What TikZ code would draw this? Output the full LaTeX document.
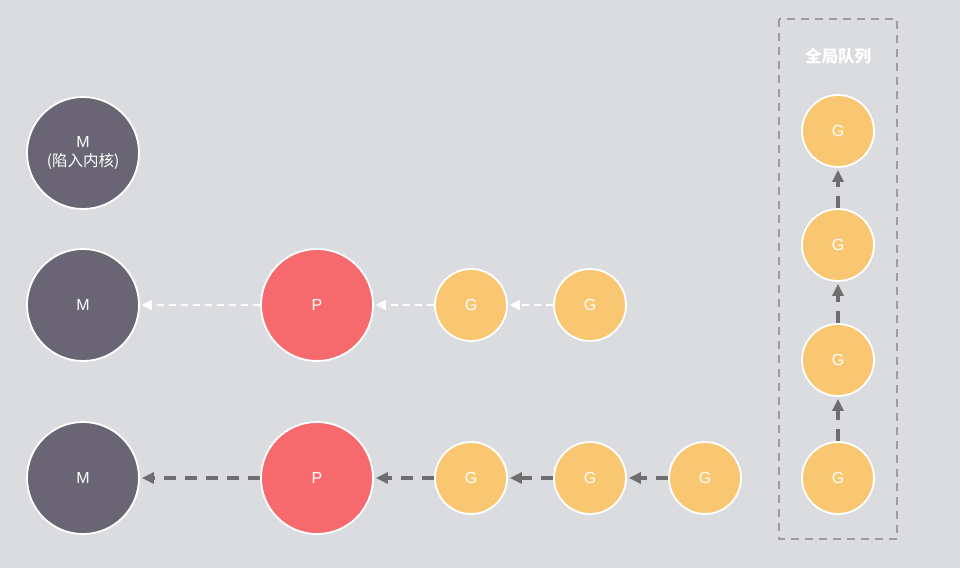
\documentclass[tikz,border=0pt]{standalone}
\usepackage{fontspec}
\setmainfont{Liberation Sans}
\newfontfamily\cjk{Noto Sans CJK SC}
\usetikzlibrary{arrows.meta}
\definecolor{bg}{HTML}{DBDCE0}
\definecolor{mcol}{HTML}{6A6574}
\definecolor{pcol}{HTML}{F6696C}
\definecolor{gcol}{HTML}{F9C772}
\definecolor{arrowgray}{HTML}{6E6E6E}
\definecolor{boxgray}{HTML}{9C9C9C}
\tikzset{
  ball/.style={circle, draw=white, line width=1.8pt, text=white, inner sep=0pt,
    font=\fontsize{16}{20}\selectfont, align=center},
  mnode/.style={ball, fill=mcol, minimum size=112pt},
  pnode/.style={ball, fill=pcol, minimum size=112pt},
  gnode/.style={ball, fill=gcol, minimum size=72pt},
  idlelink/.style={draw=white, line width=2pt, dash pattern=on 7pt off 5pt,
    -{Triangle[length=10pt,width=10pt]}, shorten >=2pt},
  runlink/.style={draw=arrowgray, line width=3.2pt, dash pattern=on 12pt off 9pt,
    -{Triangle[length=12pt,width=11pt]}, shorten >=2pt},
  queuebox/.style={draw=boxgray, line width=1.5pt, dash pattern=on 8pt off 6pt}
}
\begin{document}
\begin{tikzpicture}[x=1pt,y=-1pt]
  \fill[bg] (0,0) rectangle (960,568);
  \useasboundingbox (0,0) rectangle (960,568);

  % global run queue frame
  \draw[queuebox] (779,19) rectangle (897,539);
  \node[text=white, font=\cjk\bfseries\fontsize{16.5}{18}\selectfont] (qlabel) at (838,56) {全局队列};

  % machines
  \node[mnode] (m1) at (83,153) {M\\[-1pt]{\cjk\fontsize{15.5}{20}\selectfont (陷入内核)}};
  \node[mnode] (m2) at (83,305) {M};
  \node[mnode] (m3) at (83,478) {M};

  % processors
  \node[pnode] (p1) at (317,305) {P};
  \node[pnode] (p2) at (317,478) {P};

  % local run queues
  \node[gnode] (g11) at (471,305) {G};
  \node[gnode] (g12) at (590,305) {G};
  \node[gnode] (g21) at (471,478) {G};
  \node[gnode] (g22) at (590,478) {G};
  \node[gnode] (g23) at (705,478) {G};

  % global run queue
  \node[gnode] (q1) at (838,131) {G};
  \node[gnode] (q2) at (838,245) {G};
  \node[gnode] (q3) at (838,360) {G};
  \node[gnode] (q4) at (838,478) {G};

  % detached processor chain
  \draw[idlelink] (p1) -- (m2);
  \draw[idlelink] (g11) -- (p1);
  \draw[idlelink] (g12) -- (g11);

  % running processor chain
  \draw[runlink] (p2) -- (m3);
  \draw[runlink] (g21) -- (p2);
  \draw[runlink] (g22) -- (g21);
  \draw[runlink] (g23) -- (g22);

  % global queue links
  \draw[runlink] (q4) -- (q3);
  \draw[runlink] (q3) -- (q2);
  \draw[runlink] (q2) -- (q1);
\end{tikzpicture}
\end{document}
